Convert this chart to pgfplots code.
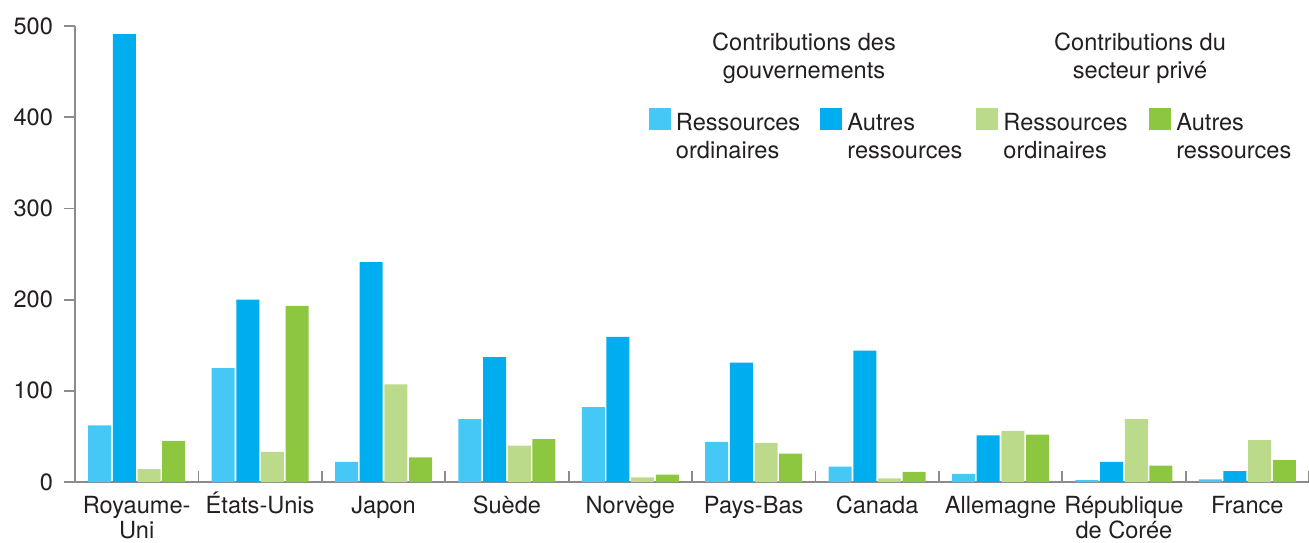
\documentclass[border=0pt]{standalone}
\usepackage{fontspec}
\setmainfont{TeX Gyre Heros}
\usepackage{pgfplots}
\pgfplotsset{compat=1.18}
\definecolor{cLB}{HTML}{45C8F5}
\definecolor{cDB}{HTML}{00AEEF}
\definecolor{cLG}{HTML}{BBDB8A}
\definecolor{cG}{HTML}{8DC63F}
\definecolor{axgray}{HTML}{8C8C8C}
\definecolor{txt}{HTML}{231F20}
\newcommand{\twol}[2]{\begin{tabular}[t]{@{}c@{}}#1\\#2\end{tabular}}
\newcommand{\twolx}[2]{\begin{tabular}[t]{@{}c@{}}#1\\[-1.3pt]#2\end{tabular}}
\begin{document}
\begin{tikzpicture}[font=\fontsize{11.8}{14}\selectfont, text=txt]
\useasboundingbox (-37.5pt,-30pt) rectangle (617pt,241pt);
\begin{axis}[
  at={(0,0)}, anchor=south west,
  width=617pt, height=228pt, scale only axis,
  xmin=-0.5, xmax=9.5, ymin=0, ymax=500,
  axis lines*=left,
  axis line style={-, axgray, line width=0.9pt},
  ybar, bar width=11.5pt,
  tick align=inside,
  ytick={0,100,200,300,400,500},
  ytick style={axgray, line width=0.9pt, xshift=-5.5pt},
  major tick length=5.5pt,
  minor tick length=5.5pt,
  xtick={0,...,9},
  xticklabels={{\twolx{Royaume-}{Uni}}, États-Unis, Japon, Suède, Norvège, Pays-Bas, Canada, Allemagne, {\twolx{République}{de Corée}}, France},
  major x tick style={draw=none},
  minor xtick={0.5,1.5,...,9.5},
  minor x tick style={axgray, line width=0.9pt},
  xticklabel style={anchor=base, yshift=-15.5pt},
  yticklabel style={xshift=-7.5pt},
  /pgf/number format/assume math mode=true,
  legend columns=4,
  legend style={at={(0.4648,0.821)}, anchor=north west, draw=none, fill=none, inner sep=0pt,
    nodes={inner sep=0pt}, cells={anchor=base west, align=left},
    /tikz/every odd column/.append style={column sep=2.5pt},
    /tikz/column 2/.append style={column sep=10.1pt},
    /tikz/column 4/.append style={column sep=7pt},
    /tikz/column 6/.append style={column sep=10.8pt}},
]
\addplot[fill=cLB, draw=none, bar shift=-18.5pt,
  legend image code/.code={\fill[cLB] (0pt,14pt) rectangle (11pt,25pt);}]
  coordinates {(0,62) (1,125) (2,22) (3,69) (4,82) (5,44) (6,17) (7,9) (8,2) (9,3)};
\addlegendentry{Ressources\\ordinaires}
\addplot[fill=cDB, draw=none, bar shift=-6.17pt,
  legend image code/.code={\fill[cDB] (0pt,14pt) rectangle (11pt,25pt);}]
  coordinates {(0,491) (1,200) (2,241) (3,137) (4,159) (5,131) (6,144) (7,51) (8,22) (9,12)};
\addlegendentry{Autres\\ressources}
\addplot[fill=cLG, draw=none, bar shift=6.17pt,
  legend image code/.code={\fill[cLG] (0pt,14pt) rectangle (11pt,25pt);}]
  coordinates {(0,14) (1,33) (2,107) (3,40) (4,5) (5,43) (6,4) (7,56) (8,69) (9,46)};
\addlegendentry{Ressources\\ordinaires}
\addplot[fill=cG, draw=none, bar shift=18.5pt,
  legend image code/.code={\fill[cG] (0pt,14pt) rectangle (11pt,25pt);}]
  coordinates {(0,45) (1,193) (2,27) (3,47) (4,8) (5,31) (6,11) (7,52) (8,18) (9,24)};
\addlegendentry{Autres\\ressources}
\end{axis}
\node[anchor=base] at (364.5pt,215.5pt) {\twol{Contributions des}{gouvernements}};
\node[anchor=base] at (532.5pt,215.5pt) {\twol{Contributions du}{secteur privé}};
\end{tikzpicture}
\end{document}
